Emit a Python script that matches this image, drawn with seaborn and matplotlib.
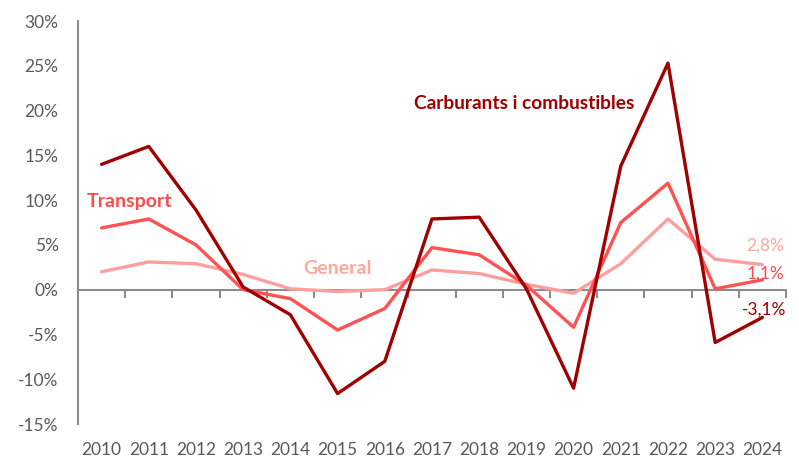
import pandas as pd
import seaborn as sns
import matplotlib.pyplot as plt
from matplotlib.ticker import FixedLocator, FuncFormatter

years = [str(y) for y in range(2010, 2025)]
carburants = [14.0, 16.0, 8.9, 0.3, -2.8, -11.6, -8.0, 7.9, 8.1, 0.1, -11.0, 13.8, 25.3, -5.9, -3.1]
transport = [6.9, 7.9, 5.0, 0.0, -1.0, -4.5, -2.1, 4.7, 3.9, 0.5, -4.2, 7.5, 11.9, 0.1, 1.1]
general = [2.0, 3.1, 2.9, 1.7, 0.1, -0.2, 0.0, 2.2, 1.8, 0.6, -0.4, 2.9, 7.9, 3.4, 2.8]

series_names = ["General", "Transport", "Carburants i combustibles"]
colors = {"General": "#FF9E9E", "Transport": "#FF5252", "Carburants i combustibles": "#A00000"}
label_colors = {"General": "#FFA89E", "Transport": "#FF4B4B", "Carburants i combustibles": "#A00000"}

df = pd.DataFrame({
    "x": list(range(len(years))) * 3,
    "value": general + transport + carburants,
    "serie": [s for s in series_names for _ in years],
})

sns.set_style("white")
plt.rcParams["font.family"] = ["Lato", "DejaVu Sans"]

fig = plt.figure(figsize=(7.99, 4.58), dpi=100)
ax = fig.add_axes([0.0976, 0.0742, 0.8861, 0.8798])

sns.lineplot(data=df, x="x", y="value", hue="serie", palette=colors,
             linewidth=2.4, legend=False, ax=ax, zorder=3)

ax.set_xlim(-0.5, len(years) - 0.5)
ax.set_ylim(-15, 30)
ax.set_yticks(range(-15, 31, 5))
ax.yaxis.set_major_formatter(FuncFormatter(lambda v, p: f"{v:.0f}%"))
ax.set_xticks(range(len(years)))
ax.set_xticklabels(years)
ax.set_xlabel("")
ax.set_ylabel("")

for s in ["top", "right", "bottom"]:
    ax.spines[s].set_visible(False)
ax.spines["left"].set_color("#8C8C8C")
ax.spines["left"].set_linewidth(1.5)
ax.tick_params(axis="y", length=0, pad=14, labelsize=12.5, labelcolor="#595959")
ax.tick_params(axis="x", length=0, pad=13, labelsize=12.5, labelcolor="#595959")

# zero axis line with tick marks between categories
zero_ax = ax.secondary_xaxis(0, transform=ax.transData)
zero_ax.spines["bottom"].set_color("#8C8C8C")
zero_ax.spines["bottom"].set_linewidth(1.5)
zero_ax.xaxis.set_major_locator(FixedLocator([i + 0.5 for i in range(len(years))]))
zero_ax.tick_params(axis="x", length=6, width=1.5, color="#8C8C8C", labelbottom=False)

# series labels
ax.text(8.95, 20.8, "Carburants i combustibles", color=label_colors["Carburants i combustibles"],
        fontsize=13.8, fontweight="bold", ha="center", va="center")
ax.text(-0.32, 9.9, "Transport", color=label_colors["Transport"],
        fontsize=14, fontweight="bold", ha="left", va="center")
ax.text(5.0, 2.4, "General", color=label_colors["General"],
        fontsize=14, fontweight="bold", ha="center", va="center")

# end labels
ax.text(14.06, 4.9, f"{general[-1]:.1f}%".replace(".", ","), color=label_colors["General"],
        fontsize=12.5, ha="center", va="center")
ax.text(14.06, 1.8, f"{transport[-1]:.1f}%".replace(".", ","), color=label_colors["Transport"],
        fontsize=12.5, ha="center", va="center")
ax.text(14.04, -2.2, f"{carburants[-1]:.1f}%".replace(".", ","), color=label_colors["Carburants i combustibles"],
        fontsize=12.5, ha="center", va="center")

plt.savefig("out.png", dpi=100)
plt.close()
